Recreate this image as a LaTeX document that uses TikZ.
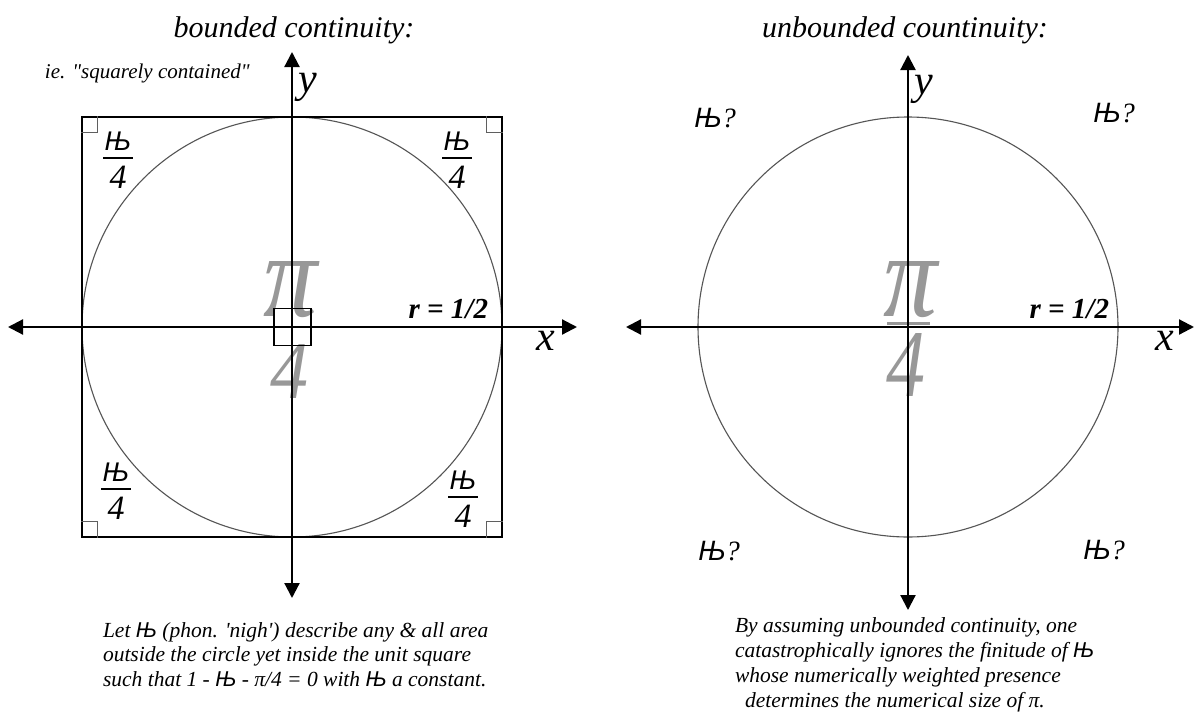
\documentclass[tikz,border=0pt]{standalone}
\usepackage{fontspec}
\setmainfont{Liberation Serif}[Ligatures=TeXOff]
\newfontfamily\njefont{Liberation Sans}
\usepackage{graphicx}
\usetikzlibrary{arrows.meta,calc}
\newcommand{\Nje}{{\njefont\itshape Њ}}
\definecolor{pigray}{RGB}{152,152,152}
\definecolor{circgray}{RGB}{85,85,85}
\definecolor{markgray}{RGB}{95,95,95}
\tikzset{
  lbl/.style={inner sep=0pt, outer sep=0pt},
  ttl/.style={lbl, font=\fontsize{30}{30}\selectfont\itshape},
  note/.style={lbl, font=\fontsize{21}{21}\selectfont\itshape},
  axlbl/.style={lbl, font=\fontsize{42}{42}\selectfont\itshape},
  rlbl/.style={lbl, font=\fontsize{29}{29}\selectfont\bfseries\itshape},
  njq/.style={lbl, font=\fontsize{28}{28}\selectfont\itshape},
  body/.style={lbl, font=\fontsize{21.5}{21.5}\selectfont\itshape, anchor=base west},
  big/.style={lbl, text=pigray},
  axis/.style={line width=2.2pt, {Triangle[length=15pt,width=15pt]}-{Triangle[length=15pt,width=15pt]}},
  circ/.style={draw=circgray, line width=1.1pt},
  sqbox/.style={draw=black, line width=1.2pt, inner sep=0pt, minimum width=420pt, minimum height=420pt},
  cmark/.style={draw=markgray, line width=1pt},
  origbox/.style={draw=black, line width=1.1pt, inner sep=0pt, minimum size=37pt}
}
\newcommand{\NjeFrac}{\vbox{\offinterlineskip\halign{\hfil##\hfil\cr
  \fontsize{27}{27}\selectfont\Nje\cr
  \noalign{\kern7pt}
  \vrule width 30pt height 1.8pt depth 0pt\cr
  \noalign{\kern7pt}
  \fontsize{34}{34}\selectfont\itshape 4\cr}}}
\begin{document}
\begin{tikzpicture}[x=1pt,y=-1pt]
\useasboundingbox (0,0) rectangle (1195,720);
\fill[white] (0,0) rectangle (1195,720);

% ---------- left: bounded continuity ----------
\coordinate (O1) at (292,327);
\coordinate (L1) at (8,327);
\coordinate (R1) at (577,327);
\coordinate (T1) at (292,52);
\coordinate (B1) at (292,598);

\node[big] (pi1) at (291,290) {\resizebox{54pt}{55pt}{\itshape π}};
\node[big] (four1) at (289,371) {\resizebox{38pt}{54pt}{\itshape 4}};

\draw[circ] (O1) circle[radius=210];
\node[sqbox] (sq1) at (O1) {};
\draw[cmark] ($(sq1.north west)+(16,0)$) -- ++(0,16) -- ++(-16,0);
\draw[cmark] ($(sq1.north east)+(-16,0)$) -- ++(0,16) -- ++(16,0);
\draw[cmark] ($(sq1.south west)+(0,-16)$) -- ++(16,0) -- ++(0,16);
\draw[cmark] ($(sq1.south east)+(0,-16)$) -- ++(-16,0) -- ++(0,16);
\node[origbox] (ob1) at (292.5,327) {};

\draw[axis] (L1) -- (R1);
\draw[axis] (T1) -- (B1);

\node[ttl, anchor=base] (title1) at (294,37) {bounded continuity:};
\node[note, anchor=base west] (ie) at (45,78) {ie. "squarely contained"};
\node[axlbl, anchor=base west] (ylab1) at (298,92) {y};
\node[axlbl, anchor=base west] (xlab1) at (536,350) {x};
\node[rlbl, anchor=base east] (r1) at (488,318) {r = 1/2};

\node[lbl] (f1) at (118,160) {\NjeFrac};
\node[lbl] (f2) at (457,160) {\NjeFrac};
\node[lbl] (f3) at (116,491) {\NjeFrac};
\node[lbl] (f4) at (463,499) {\NjeFrac};

\node[body] (lt1) at (103,637) {Let \Nje{} (phon. 'nigh') describe any \& all area};
\node[body] (lt2) at (103,661.5) {outside the circle yet inside the unit square};
\node[body] (lt3) at (103,686) {such that 1 - \Nje{} - π/4 = 0 with \Nje{} a constant.};

% ---------- right: unbounded countinuity ----------
\coordinate (O2) at (908,327);
\coordinate (L2) at (626,327);
\coordinate (R2) at (1194,327);
\coordinate (T2) at (908,55);
\coordinate (B2) at (908,610);

\node[big] (pi2) at (911,290) {\resizebox{54pt}{55pt}{\itshape π}};
\draw[pigray, line width=3pt] (887,323) -- (930,323);
\node[big] (four2) at (906,365) {\resizebox{39pt}{63pt}{\itshape 4}};

\draw[circ] (O2) circle[radius=210];
\draw[axis] (L2) -- (R2);
\draw[axis] (T2) -- (B2);

\node[ttl, anchor=base] (title2) at (905,37) {unbounded countinuity:};
\node[axlbl, anchor=base west] (ylab2) at (914,94) {y};
\node[axlbl, anchor=base west] (xlab2) at (1155,350) {x};
\node[rlbl, anchor=base east] (r2) at (1109,318) {r = 1/2};

\node[njq] (q1) at (715,118) {\Nje?};
\node[njq] (q2) at (1114,113) {\Nje?};
\node[njq] (q3) at (719,551) {\Nje?};
\node[njq] (q4) at (1104,550) {\Nje?};

\node[body] (rt1) at (735,632) {By assuming unbounded continuity, one};
\node[body] (rt2) at (735,657) {catastrophically ignores the finitude of \Nje};
\node[body] (rt3) at (735,682) {whose numerically weighted presence};
\node[body] (rt4) at (745,707) {determines the numerical size of π.};
\end{tikzpicture}
\end{document}
